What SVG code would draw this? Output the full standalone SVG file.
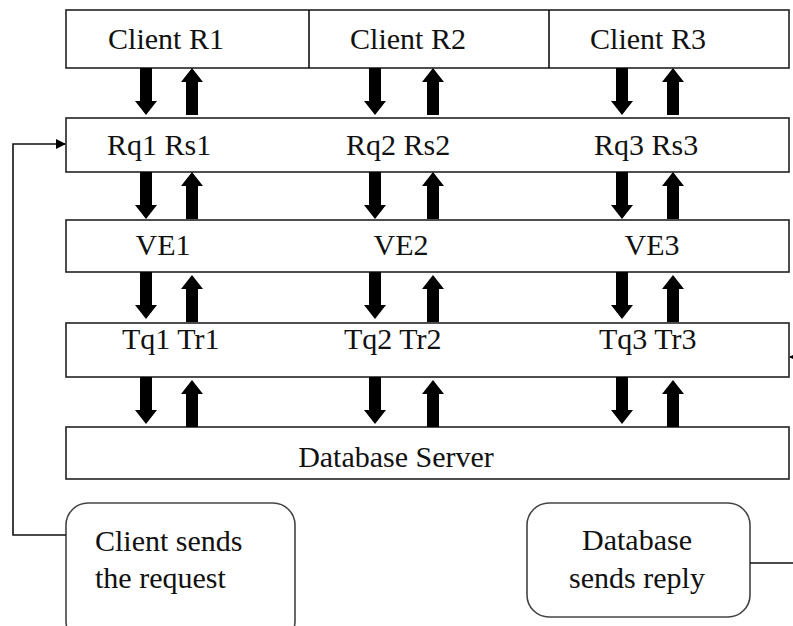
<svg xmlns="http://www.w3.org/2000/svg" width="793" height="626" viewBox="0 0 793 626">
<style>
.box{fill:#fff;stroke:#222;stroke-width:1.6}
.rbox{fill:#fff;stroke:#444;stroke-width:1.6}
.m{text-anchor:middle}
.ln{fill:none;stroke:#111;stroke-width:1.6}
.arr{fill:#000}
</style>
<defs>
<path id="dn" class="arr" d="M-6,0 H6 V33 H11 L0,47 L-11,33 H-6 Z"/>
<path id="up" class="arr" d="M-6,47 H6 V14 H11 L0,0 L-11,14 H-6 Z"/>
<marker id="ah" markerWidth="10" markerHeight="10" refX="9" refY="5" orient="auto" markerUnits="userSpaceOnUse">
<path d="M0,0 L10,5 L0,10 Z" fill="#000"/>
</marker>
</defs>
<g font-family="Liberation Serif, Tinos, Times New Roman, DejaVu Serif, serif" font-size="30" fill="#111">
<g id="clients">
<rect class="box" x="66" y="10" width="723" height="58"/>
<line class="ln" x1="309" y1="10" x2="309" y2="68"/>
<line class="ln" x1="549" y1="10" x2="549" y2="68"/>
<text class="m" x="166" y="49">Client R1</text>
<text class="m" x="408" y="49">Client R2</text>
<text class="m" x="648" y="49">Client R3</text>
</g>
<g id="requests">
<rect class="box" x="66" y="118" width="723" height="54"/>
<text x="107" y="155">Rq1 Rs1</text>
<text x="346" y="155">Rq2 Rs2</text>
<text x="594" y="155">Rq3 Rs3</text>
</g>
<g id="ve">
<rect class="box" x="66" y="220" width="723" height="52"/>
<text class="m" x="163" y="255">VE1</text>
<text class="m" x="401" y="255">VE2</text>
<text class="m" x="652" y="255">VE3</text>
</g>
<g id="transactions">
<rect class="box" x="66" y="323" width="723" height="54"/>
<text x="122" y="349">Tq1 Tr1</text>
<text x="344" y="349">Tq2 Tr2</text>
<text x="599" y="349">Tq3 Tr3</text>
</g>
<g id="database">
<rect class="box" x="66" y="427" width="723" height="52"/>
<text class="m" x="396" y="467">Database Server</text>
</g>
<g id="client-sends">
<rect class="rbox" x="66" y="503" width="229" height="140" rx="22"/>
<text x="95" y="551">Client sends</text>
<text x="95" y="588">the request</text>
</g>
<g id="db-sends">
<rect class="rbox" x="527" y="503" width="223" height="114" rx="22"/>
<text class="m" x="637" y="550">Database</text>
<text class="m" x="637" y="588">sends reply</text>
</g>
</g>
<g id="connectors">
<use href="#dn" x="146" y="68"/><use href="#up" x="192" y="68"/>
<use href="#dn" x="375" y="68"/><use href="#up" x="433" y="68"/>
<use href="#dn" x="622" y="68"/><use href="#up" x="673" y="68"/>
<use href="#dn" x="146" y="172"/><use href="#up" x="192" y="172"/>
<use href="#dn" x="375" y="172"/><use href="#up" x="433" y="172"/>
<use href="#dn" x="622" y="172"/><use href="#up" x="673" y="172"/>
<use href="#dn" x="146" y="272"/><use href="#up" x="192" y="275"/>
<use href="#dn" x="375" y="272"/><use href="#up" x="433" y="275"/>
<use href="#dn" x="622" y="272"/><use href="#up" x="673" y="275"/>
<use href="#dn" x="146" y="377"/><use href="#up" x="192" y="380"/>
<use href="#dn" x="375" y="377"/><use href="#up" x="433" y="380"/>
<use href="#dn" x="622" y="377"/><use href="#up" x="673" y="380"/>
<path class="ln" d="M66,535 H13 V144 H65" marker-end="url(#ah)"/>
<path class="ln" d="M750,563 H793"/>
<path class="ln" d="M793,357 H790" marker-end="url(#ah)"/>
</g>
</svg>
